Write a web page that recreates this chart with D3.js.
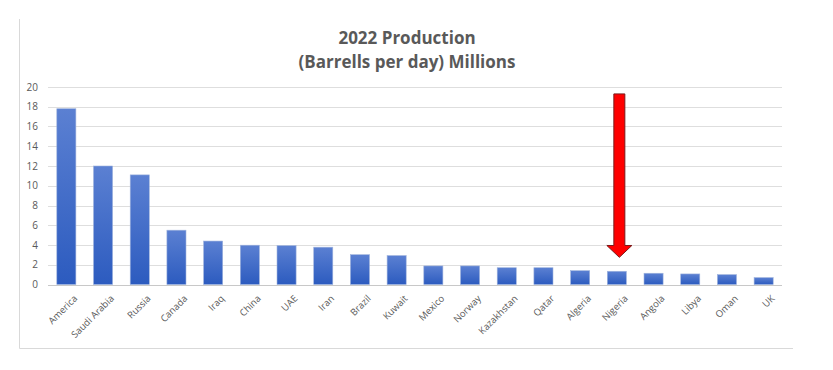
<!DOCTYPE html>
<html>
<head>
<meta charset="utf-8">
<script src="https://cdn.jsdelivr.net/npm/d3@7"></script>
<style>
  body { margin: 0; background: #fff; }
  text { font-family: "Open Sans", "Liberation Sans", sans-serif; }
</style>
</head>
<body>
<div id="chart"></div>
<script>
// Data
var countries = ["America", "Saudi Arabia", "Russia", "Canada", "Iraq", "China", "UAE", "Iran",
  "Brazil", "Kuwait", "Mexico", "Norway", "Kazakhstan", "Qatar", "Algeria", "Nigeria",
  "Angola", "Libya", "Oman", "UK"];
var production = [17.8, 12.0, 11.1, 5.5, 4.4, 3.98, 3.94, 3.78, 3.02, 2.93, 1.88, 1.88,
  1.7, 1.7, 1.4, 1.34, 1.14, 1.07, 1.0, 0.7];
var yTicks = [0, 2, 4, 6, 8, 10, 12, 14, 16, 18, 20];
var titleLines = ["2022 Production", "(Barrells per day) Millions"];
var highlight = "Nigeria";

var svgWidth = 833;
var svgHeight = 370;
var margin = {top: 87, right: 51, bottom: 85.5, left: 48};
var width = svgWidth - margin.left - margin.right;
var height = svgHeight - margin.top - margin.bottom;

var svg = d3.select("#chart")
  .append("svg")
  .attr("width", svgWidth)
  .attr("height", svgHeight);

// outer chart frame (left + bottom edges visible)
svg.append("path")
  .attr("d", "M19.5,19 V348.5 H793")
  .attr("fill", "none")
  .attr("stroke", "#d9d9d9")
  .attr("stroke-width", 1);

var defs = svg.append("defs");
var grad = defs.append("linearGradient")
  .attr("id", "barGrad")
  .attr("x1", 0).attr("y1", 0).attr("x2", 0).attr("y2", 1);
grad.append("stop").attr("offset", "0%").attr("stop-color", "#5b80d2");
grad.append("stop").attr("offset", "100%").attr("stop-color", "#2c5bbf");

var chart = svg.append("g")
  .attr("transform", `translate(${margin.left}, ${margin.top})`);

var xScale = d3.scaleBand()
  .domain(countries)
  .range([0, width])
  .paddingInner(0.48)
  .paddingOuter(0.24);

var yScale = d3.scaleLinear()
  .domain([0, 20])
  .range([height, 0]);

// gridlines
chart.append("g")
  .selectAll("line")
  .data(yTicks.filter(d => d > 0))
  .enter()
  .append("line")
  .attr("x1", 0)
  .attr("x2", width)
  .attr("y1", d => Math.round(yScale(d)) + 0.5)
  .attr("y2", d => Math.round(yScale(d)) + 0.5)
  .attr("stroke", "#dedede");

// y axis labels
var leftAxis = d3.axisLeft(yScale).tickValues(yTicks).tickSize(0).tickPadding(10);
var yAxis = chart.append("g").call(leftAxis);
yAxis.select(".domain").remove();
yAxis.selectAll("text")
  .attr("fill", "#595959")
  .style("font-size", "10px");

// bars
chart.selectAll("rect.bar")
  .data(countries)
  .enter()
  .append("rect")
  .attr("class", "bar")
  .attr("x", d => xScale(d))
  .attr("y", (d, i) => yScale(production[i]))
  .attr("width", xScale.bandwidth())
  .attr("height", (d, i) => height - yScale(production[i]))
  .attr("fill", "url(#barGrad)")
  .attr("stroke", "#9fb3dd")
  .attr("stroke-width", 0.6);

// baseline
chart.append("line")
  .attr("x1", 0)
  .attr("x2", width)
  .attr("y1", Math.round(height) + 0.5)
  .attr("y2", Math.round(height) + 0.5)
  .attr("stroke", "#c8c8c8");

// x axis labels, rotated
var bottomAxis = d3.axisBottom(xScale).tickSize(0).tickPadding(6);
var xAxis = chart.append("g")
  .attr("transform", `translate(0, ${height})`)
  .call(bottomAxis);
xAxis.select(".domain").remove();
xAxis.selectAll("text")
  .attr("fill", "#595959")
  .style("font-size", "9.5px")
  .attr("text-anchor", "end")
  .attr("dy", "0.35em")
  .attr("transform", "translate(5, 8) rotate(-45)");

// title
svg.append("text")
  .attr("x", 407)
  .attr("text-anchor", "middle")
  .attr("fill", "#595959")
  .style("font-size", "17px")
  .style("font-weight", "bold")
  .selectAll("tspan")
  .data(titleLines)
  .enter()
  .append("tspan")
  .attr("x", 407)
  .attr("y", (d, i) => 44 + i * 24)
  .text(d => d);

// red arrow pointing at Nigeria
var ax = xScale(highlight) + xScale.bandwidth() / 2 + 2.5;
var shaftW = 5.5, headW = 12.5;
var yTop = yScale(19.3), yHead = yScale(3.95), yTip = yScale(2.75);
var arrowPts = [
  [ax - shaftW, yTop], [ax + shaftW, yTop], [ax + shaftW, yHead],
  [ax + headW, yHead], [ax, yTip], [ax - headW, yHead], [ax - shaftW, yHead]
];
chart.append("path")
  .attr("d", d3.line()(arrowPts) + "Z")
  .attr("fill", "#ff0000")
  .attr("stroke", "#7a1a1a")
  .attr("stroke-width", 1);
</script>
</body>
</html>
